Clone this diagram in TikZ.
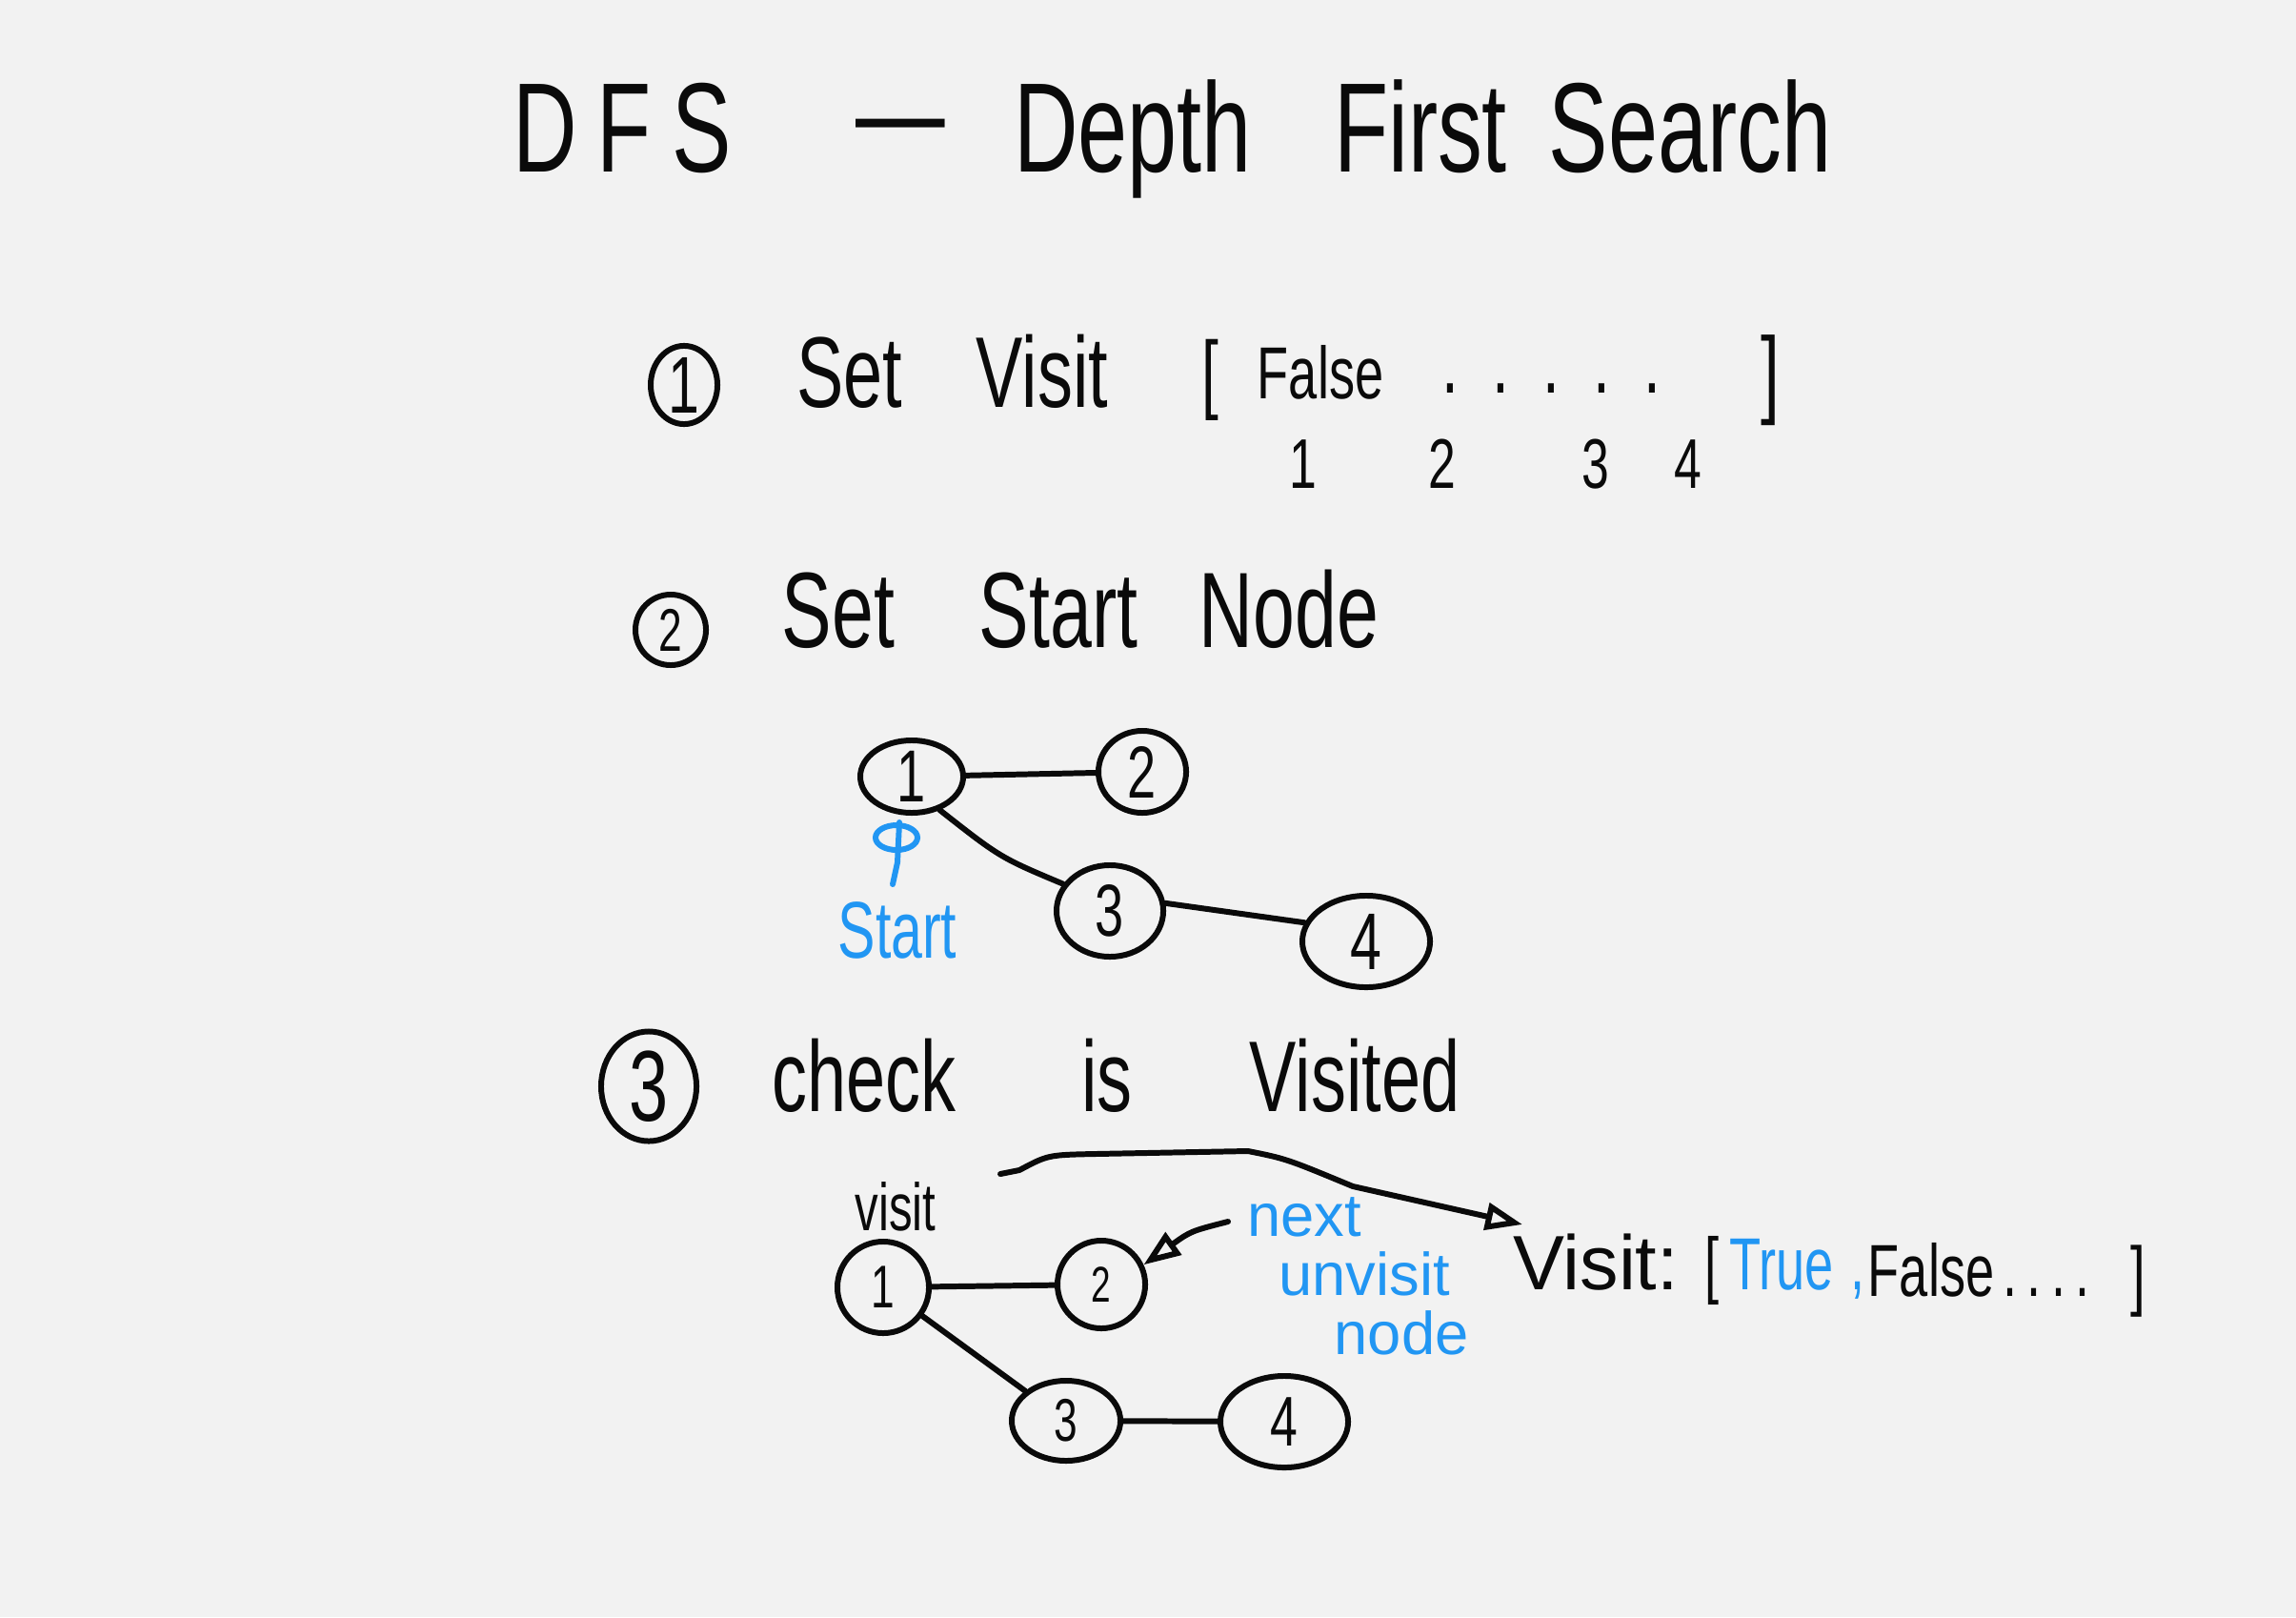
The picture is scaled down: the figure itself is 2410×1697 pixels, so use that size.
\documentclass[tikz,border=0pt]{standalone}
\usepackage{fontspec}
\setmainfont{Liberation Sans}
\newfontfamily\hand[FakeStretch=0.7]{Liberation Sans}
\usetikzlibrary{shapes.geometric,arrows.meta}
\definecolor{bg}{HTML}{F2F2F2}
\definecolor{ink}{HTML}{0A0A0A}
\definecolor{pen}{HTML}{2196F3}
\newcommand\fs[1]{\fontsize{#1}{#1}\selectfont}
\begin{document}
\begin{tikzpicture}[x=0.01cm,y=-0.01cm,
  txt/.style={inner sep=0, anchor=base, text=ink, font=\hand},
  btxt/.style={inner sep=0, anchor=base, text=pen, font=\hand},
  wtxt/.style={inner sep=0, anchor=base, text=pen, font=\normalfont},
  circ/.style={ellipse, draw=ink, line width=1.7pt, inner sep=0, text=ink, font=\hand},
  edge/.style={draw=ink, line width=1.7pt, line cap=round, line join=round},
  arr/.style={edge, -{Triangle[open, length=11pt, width=8pt, line width=1.7pt]}},
]
\fill[bg] (0,0) rectangle (2410,1697);
\useasboundingbox (0,0) rectangle (2410,1697);

% Title
\node[txt] (tdfs) at (653,180) {\fs{38}D\kern6pt F\kern6pt S};
\node[txt] (tdash) at (945,163) {\fs{38}—};
\node[txt] (tdepth) at (1189,180) {\fs{38}Depth};
\node[txt] (tfirst) at (1491,180) {\fs{38}First};
\node[txt] (tsearch) at (1774,180) {\fs{38}Search};

% Step 1
\node[circ, minimum width=0.70cm, minimum height=0.80cm] (c1) at (718,404) {\fs{24}1};
\node[txt] (s1set) at (892,427) {\fs{30}Set};
\node[txt] (s1visit) at (1094,427) {\fs{30}Visit};
\node[txt] (s1lb) at (1270,422) {\fs{26}[};
\node[txt] (s1false) at (1386,418) {\fs{22}False};
\node[txt] (s1dots) at (1628,412) {\fs{26}.\hspace{10pt}.\hspace{10pt}.\hspace{10pt}.\hspace{10pt}.};
\node[txt] (s1rb) at (1858,425) {\fs{29}]};
\node[txt] (i1) at (1368,512) {\fs{21}1};
\node[txt] (i2) at (1514,512) {\fs{21}2};
\node[txt] (i3) at (1675,512) {\fs{21}3};
\node[txt] (i4) at (1772,512) {\fs{21}4};

% Step 2
\node[circ, minimum width=0.74cm, minimum height=0.74cm] (c2) at (704,661) {\fs{18}2};
\node[txt] (s2set) at (880,679) {\fs{32}Set};
\node[txt] (s2start) at (1111,679) {\fs{32}Start};
\node[txt] (s2node) at (1353,679) {\fs{32}Node};

% Graph 1
\node[circ, minimum width=1.08cm, minimum height=0.76cm] (ga1) at (957,815) {\fs{22}1};
\node[circ, minimum width=0.92cm, minimum height=0.86cm] (ga2) at (1199,810) {\fs{22}2};
\node[circ, minimum width=1.12cm, minimum height=0.96cm] (ga3) at (1165,956) {\fs{22}3};
\node[circ, minimum width=1.34cm, minimum height=0.96cm] (ga4) at (1434,988) {\fs{24}4};
\draw[edge] (ga1) -- (ga2);
\draw[edge] (ga1.-50) .. controls (1050,900) .. (ga3.150);
\draw[edge] (ga3.8) -- (ga4.163);
\draw[pen, line width=1.7pt] (941,879) ellipse [x radius=22, y radius=13];
\draw[pen, line width=1.7pt, line cap=round] (944,863) -- (942,905) -- (937,928);
\node[btxt] (gstart) at (942,1005) {\fs{24}Start};

% Step 3
\node[circ, minimum width=1.00cm, minimum height=1.15cm] (c3) at (681,1140) {\fs{30}3};
\node[txt] (s3check) at (907,1166) {\fs{30}check};
\node[txt] (s3is) at (1162,1166) {\fs{30}is};
\node[txt] (s3visited) at (1422,1166) {\fs{30}Visited};

% Graph 2
\node[txt] (gvisit) at (940,1291) {\fs{20}visit};
\node[circ, minimum width=0.96cm, minimum height=0.96cm] (gb1) at (927,1351) {\fs{18}1};
\node[circ, minimum width=0.92cm, minimum height=0.92cm] (gb2) at (1156,1348) {\fs{15}2};
\node[circ, minimum width=1.14cm, minimum height=0.84cm] (gb3) at (1119,1491) {\fs{18}3};
\node[circ, minimum width=1.34cm, minimum height=0.96cm] (gb4) at (1348,1492) {\fs{21}4};
\draw[edge] (gb1) -- (gb2);
\draw[edge] (gb1) -- (gb3);
\draw[edge] (gb3) -- (gb4);

% next unvisit node
\node[wtxt] (nnext) at (1369,1297) {\fs{18}next};
\node[wtxt] (nunvisit) at (1432,1359) {\fs{18}unvisit};
\node[wtxt] (nnode) at (1471,1421) {\fs{18}node};
\coordinate (nS) at (1289,1282);
\draw[arr] (nS) .. controls (1250,1292) .. (gb2.25);

% Visit := [True, False ....]
\node[txt, font=\normalfont] (vvisit) at (1675,1353) {\fs{23}Visit:};
\node[txt] (vlb) at (1797,1353) {\fs{22}[};
\node[btxt] (vtrue) at (1870,1353) {\fs{22}True};
\node[btxt] (vcomma) at (1950,1353) {\fs{22},};
\node[txt] (vfalse) at (2027,1360) {\fs{22}False};
\node[txt] (vdots) at (2148,1360) {\fs{22}.\hspace{3pt}.\hspace{3pt}.\hspace{3pt}.};
\node[txt] (vrb) at (2244,1365) {\fs{23}]};

\coordinate (aS) at (1050,1232);
\coordinate (aE) at (1598,1285);
\draw[arr] (aS) -- (1070,1228) .. controls (1100,1212) .. (1150,1211) -- (1310,1208) .. controls (1350,1216) .. (1420,1245) -- (aE);
\end{tikzpicture}
\end{document}
